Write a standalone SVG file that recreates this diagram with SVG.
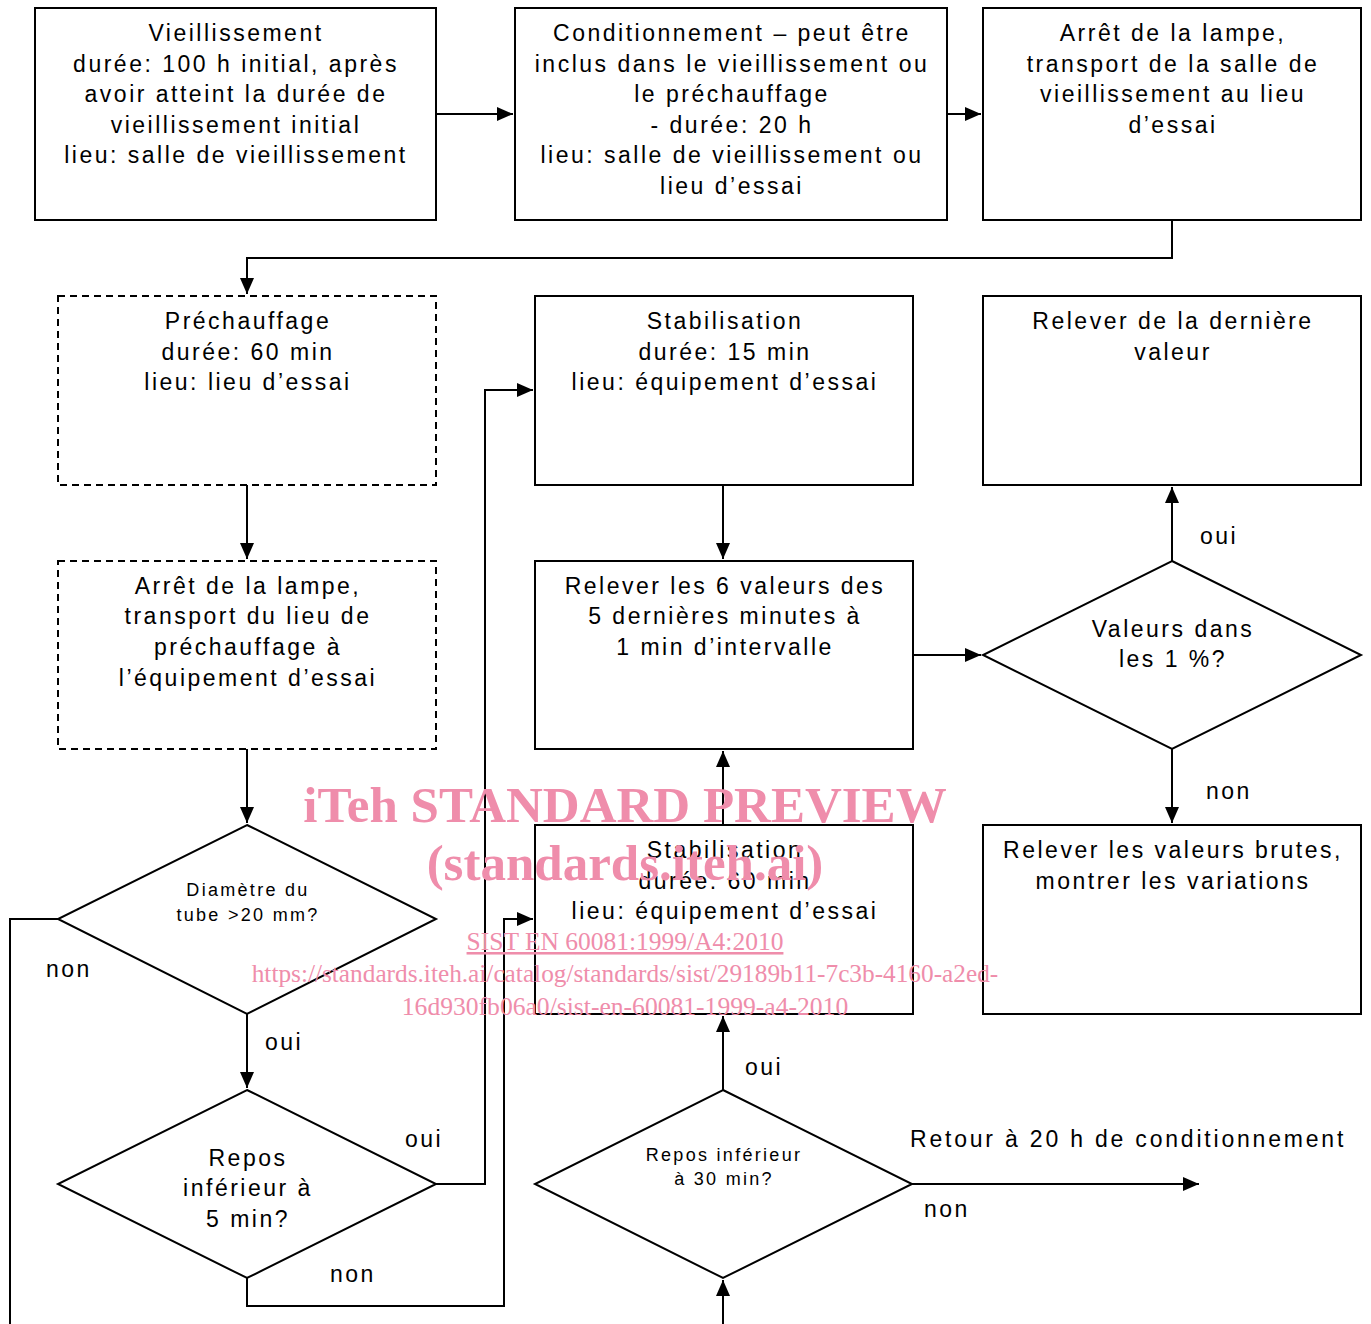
<svg xmlns="http://www.w3.org/2000/svg" width="1371" height="1324" viewBox="0 0 1371 1324">
<style>
.box{fill:#fff;stroke:#000;stroke-width:2}
.dash{fill:#fff;stroke:#000;stroke-width:2;stroke-dasharray:7 5}
.t{font-family:"Liberation Sans",Arial,sans-serif;font-size:23px;letter-spacing:2.5px;fill:#000;text-anchor:middle}
.s{font-family:"Liberation Sans",Arial,sans-serif;font-size:18px;letter-spacing:2.3px;fill:#000;text-anchor:middle}
.l{font-family:"Liberation Sans",Arial,sans-serif;font-size:23px;letter-spacing:2.5px;fill:#000}
.c{fill:none;stroke:#000;stroke-width:2}
.wm{font-family:"Liberation Serif","Times New Roman",serif;fill:#ef8dab;text-anchor:middle}
</style>
<defs>
<marker id="ah" markerUnits="userSpaceOnUse" markerWidth="16" markerHeight="14" viewBox="0 0 16 14" refX="16" refY="7" orient="auto">
<path d="M0,0 L16,7 L0,14 Z" fill="#000"/>
</marker>
</defs>

<g id="connectors">
<path class="c" d="M436,114 H513" marker-end="url(#ah)"/>
<path class="c" d="M947,114 H981" marker-end="url(#ah)"/>
<path class="c" d="M1172,220 V258 H247 V294" marker-end="url(#ah)"/>
<path class="c" d="M247,485 V559" marker-end="url(#ah)"/>
<path class="c" d="M247,749 V823" marker-end="url(#ah)"/>
<path class="c" d="M247,1014 V1088" marker-end="url(#ah)"/>
<path class="c" d="M58,919 H10 V1324"/>
<path class="c" d="M436,1184 H485 V390 H533" marker-end="url(#ah)"/>
<path class="c" d="M247,1278 V1306 H504 V919 H533" marker-end="url(#ah)"/>
<path class="c" d="M723,485 V559" marker-end="url(#ah)"/>
<path class="c" d="M723,825 V751" marker-end="url(#ah)"/>
<path class="c" d="M723,1090 V1016" marker-end="url(#ah)"/>
<path class="c" d="M723,1324 V1280" marker-end="url(#ah)"/>
<path class="c" d="M912,1184 H1199" marker-end="url(#ah)"/>
<path class="c" d="M913,655 H981" marker-end="url(#ah)"/>
<path class="c" d="M1172,561 V487" marker-end="url(#ah)"/>
<path class="c" d="M1172,749 V823" marker-end="url(#ah)"/>
<text class="l" x="265" y="1050">oui</text>
<text class="l" x="46" y="977">non</text>
<text class="l" x="405" y="1147">oui</text>
<text class="l" x="330" y="1282">non</text>
<text class="l" x="745" y="1075">oui</text>
<text class="l" x="924" y="1217">non</text>
<text class="l" x="910" y="1147" style="letter-spacing:2.8px">Retour à 20 h de conditionnement</text>
<text class="l" x="1200" y="544">oui</text>
<text class="l" x="1206" y="799">non</text>
</g>

<g id="vieillissement">
<rect class="box" x="35" y="8" width="401" height="212"/>
<text class="t" x="236" y="41">Vieillissement</text>
<text class="t" x="236" y="72">durée: 100 h initial, après</text>
<text class="t" x="236" y="102">avoir atteint la durée de</text>
<text class="t" x="236" y="133">vieillissement initial</text>
<text class="t" x="236" y="163">lieu: salle de vieillissement</text>
</g>

<g id="conditionnement">
<rect class="box" x="515" y="8" width="432" height="212"/>
<text class="t" x="732" y="41">Conditionnement – peut être</text>
<text class="t" x="732" y="72">inclus dans le vieillissement ou</text>
<text class="t" x="732" y="102">le préchauffage</text>
<text class="t" x="732" y="133">- durée: 20 h</text>
<text class="t" x="732" y="163">lieu: salle de vieillissement ou</text>
<text class="t" x="732" y="194">lieu d’essai</text>
</g>

<g id="arret1">
<rect class="box" x="983" y="8" width="378" height="212"/>
<text class="t" x="1173" y="41">Arrêt de la lampe,</text>
<text class="t" x="1173" y="72">transport de la salle de</text>
<text class="t" x="1173" y="102">vieillissement au lieu</text>
<text class="t" x="1173" y="133">d’essai</text>
</g>

<g id="prechauffage">
<rect class="dash" x="58" y="296" width="378" height="189"/>
<text class="t" x="248" y="329">Préchauffage</text>
<text class="t" x="248" y="360">durée: 60 min</text>
<text class="t" x="248" y="390">lieu: lieu d’essai</text>
</g>

<g id="stabilisation15">
<rect class="box" x="535" y="296" width="378" height="189"/>
<text class="t" x="725" y="329">Stabilisation</text>
<text class="t" x="725" y="360">durée: 15 min</text>
<text class="t" x="725" y="390">lieu: équipement d’essai</text>
</g>

<g id="relever-derniere">
<rect class="box" x="983" y="296" width="378" height="189"/>
<text class="t" x="1173" y="329">Relever de la dernière</text>
<text class="t" x="1173" y="360">valeur</text>
</g>

<g id="arret2">
<rect class="dash" x="58" y="561" width="378" height="188"/>
<text class="t" x="248" y="594">Arrêt de la lampe,</text>
<text class="t" x="248" y="624">transport du lieu de</text>
<text class="t" x="248" y="655">préchauffage à</text>
<text class="t" x="248" y="686">l’équipement d’essai</text>
</g>

<g id="relever6">
<rect class="box" x="535" y="561" width="378" height="188"/>
<text class="t" x="725" y="594">Relever les 6 valeurs des</text>
<text class="t" x="725" y="624">5 dernières minutes à</text>
<text class="t" x="725" y="655">1 min d’intervalle</text>
</g>

<g id="valeurs">
<polygon class="box" points="1172,561 1361,655 1172,749 983,655"/>
<text class="t" x="1173" y="637">Valeurs dans</text>
<text class="t" x="1173" y="667">les 1 %?</text>
</g>

<g id="diametre">
<polygon class="box" points="247,825 436,919 247,1014 58,919"/>
<text class="s" x="248" y="896">Diamètre du</text>
<text class="s" x="248" y="921">tube &gt;20 mm?</text>
</g>

<g id="stabilisation60">
<rect class="box" x="535" y="825" width="378" height="189"/>
<text class="t" x="725" y="858">Stabilisation</text>
<text class="t" x="725" y="889">durée: 60 min</text>
<text class="t" x="725" y="919">lieu: équipement d’essai</text>
</g>

<g id="relever-brutes">
<rect class="box" x="983" y="825" width="378" height="189"/>
<text class="t" x="1173" y="858">Relever les valeurs brutes,</text>
<text class="t" x="1173" y="889">montrer les variations</text>
</g>

<g id="repos5">
<polygon class="box" points="247,1090 436,1184 247,1278 58,1184"/>
<text class="t" x="248" y="1166">Repos</text>
<text class="t" x="248" y="1196">inférieur à</text>
<text class="t" x="248" y="1227">5 min?</text>
</g>

<g id="repos30">
<polygon class="box" points="723,1090 912,1184 723,1278 535,1184"/>
<text class="s" x="724" y="1161">Repos inférieur</text>
<text class="s" x="724" y="1185">à 30 min?</text>
</g>

<g id="watermark">
<text class="wm" x="625" y="822" font-size="51" font-weight="bold">iTeh STANDARD PREVIEW</text>
<text class="wm" x="625" y="880" font-size="51" font-weight="bold">(standards.iteh.ai)</text>
<text class="wm" x="625" y="950" font-size="25.5" text-decoration="underline">SIST EN 60081:1999/A4:2010</text>
<text class="wm" x="625" y="982" font-size="25.3">https://standards.iteh.ai/catalog/standards/sist/29189b11-7c3b-4160-a2ed-</text>
<text class="wm" x="625" y="1015" font-size="25.6">16d930fb06a0/sist-en-60081-1999-a4-2010</text>
</g>
</svg>
